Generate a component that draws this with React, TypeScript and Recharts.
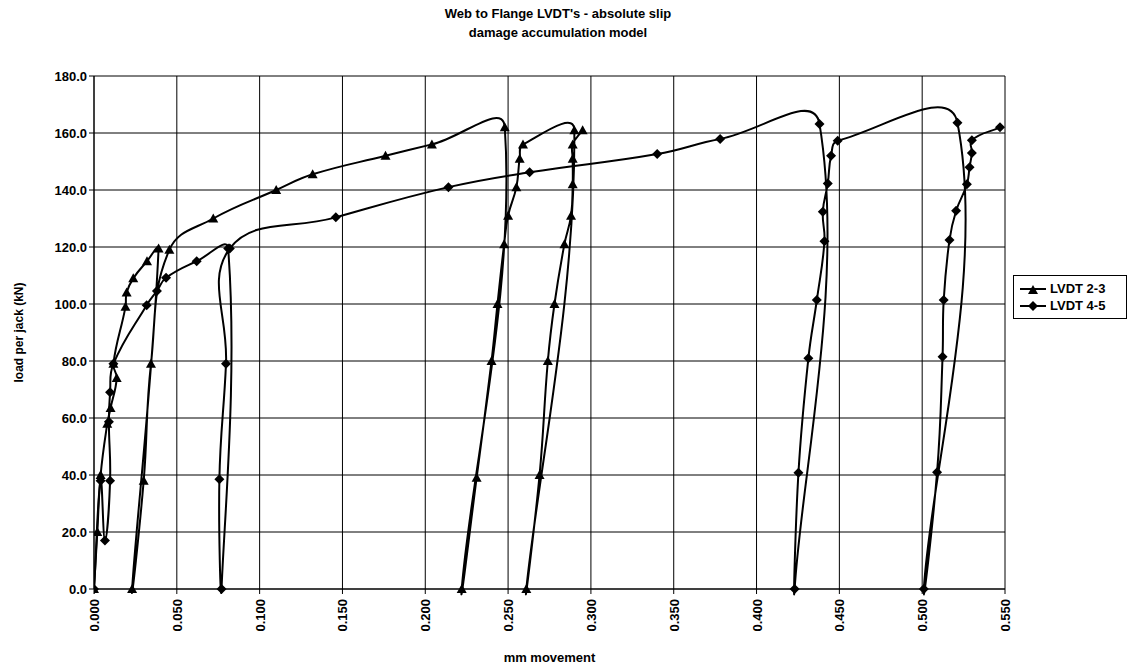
import { LineChart, Line, XAxis, YAxis, CartesianGrid, Label } from 'recharts';

const slipTicks = [0, 0.05, 0.1, 0.15, 0.2, 0.25, 0.3, 0.35, 0.4, 0.45, 0.5, 0.55];
const loadTicks = [0, 20, 40, 60, 80, 100, 120, 140, 160, 180];

// LVDT 2-3 (triangles) - slip in mm, load per jack in kN, in recorded order
const lvdt23Slip = [
  0.0, 0.002, 0.004, 0.008, 0.01, 0.0137, 0.0117, 0.019, 0.0197, 0.0237, 0.032, 0.039,
  0.023, 0.03, 0.0344, 0.0455, 0.072, 0.11, 0.132, 0.176, 0.204, 0.248,
  0.222, 0.231, 0.24, 0.2436, 0.2476, 0.25, 0.255, 0.257, 0.259, 0.29,
  0.261, 0.269, 0.274, 0.278, 0.284, 0.288, 0.289, 0.289, 0.289, 0.295,
];
const lvdt23Load = [
  0, 20, 40, 58, 63.5, 74, 79, 99, 104, 109, 115, 119.5,
  0, 38, 79, 119, 130, 140, 145.5, 152, 156, 162,
  0, 39, 80, 100, 121, 131, 141, 151, 156, 161,
  0, 40, 80, 100, 121, 131, 142, 151, 156, 161,
];

// LVDT 4-5 (diamonds)
const lvdt45Slip = [
  0.0, 0.004, 0.0066, 0.0097, 0.009, 0.0097, 0.0117, 0.0318, 0.038, 0.0435, 0.062, 0.081,
  0.077, 0.0757, 0.0797, 0.082, 0.146, 0.214, 0.263, 0.34, 0.378, 0.438,
  0.423, 0.4253, 0.4313, 0.4364, 0.441, 0.44, 0.443, 0.445, 0.449, 0.5213,
  0.501, 0.509, 0.5123, 0.513, 0.5165, 0.5205, 0.527, 0.5286, 0.53, 0.53, 0.547,
];
const lvdt45Load = [
  0, 38, 17, 38, 58.7, 69, 79, 99.6, 104.6, 109.2, 115, 119.5,
  0, 38.5, 79, 119.5, 130.4, 141, 146.2, 152.6, 157.9, 163.2,
  0, 40.8, 81, 101.4, 122, 132.4, 142.3, 152, 157.3, 163.6,
  0, 41, 81.5, 101.4, 122.5, 132.7, 142, 148, 153, 157.5, 162,
];

const toRows = (xs: number[], ys: number[]) => xs.map((x, i) => ({ x, load: ys[i] }));
const rows23 = toRows(lvdt23Slip, lvdt23Load);
const rows45 = toRows(lvdt45Slip, lvdt45Load);

const FONT = '"Liberation Sans", Arial, sans-serif';

// smoothed scatter line, bezier with chord-weighted tangents
function excelSmooth(context: any) {
  let pts: number[][] = [];
  const dist = (a: number[], b: number[]) => Math.hypot(b[0] - a[0], b[1] - a[1]);
  const T = 0.42;
  return {
    areaStart() {},
    areaEnd() {},
    lineStart() {
      pts = [];
    },
    point(x: number, y: number) {
      pts.push([+x, +y]);
    },
    lineEnd() {
      const n = pts.length;
      if (!n) return;
      context.moveTo(pts[0][0], pts[0][1]);
      for (let i = 0; i < n - 1; i++) {
        const p0 = pts[i - 1] || pts[i];
        const p1 = pts[i];
        const p2 = pts[i + 1];
        const p3 = pts[i + 2] || p2;
        const d01 = dist(p0, p1);
        const d12 = dist(p1, p2);
        const d23 = dist(p2, p3);
        const k1 = d01 + d12 > 0 ? (d12 / (d01 + d12)) * T : 0;
        const k2 = d12 + d23 > 0 ? (d12 / (d12 + d23)) * T : 0;
        context.bezierCurveTo(
          p1[0] + (p2[0] - p0[0]) * k1,
          p1[1] + (p2[1] - p0[1]) * k1,
          p2[0] - (p3[0] - p1[0]) * k2,
          p2[1] - (p3[1] - p1[1]) * k2,
          p2[0],
          p2[1]
        );
      }
    },
  };
}

const triPath = (cx: number, cy: number) => `M${cx},${cy - 5}L${cx + 5},${cy + 4}L${cx - 5},${cy + 4}Z`;
const diaPath = (cx: number, cy: number) => `M${cx},${cy - 5}L${cx + 5},${cy}L${cx},${cy + 5}L${cx - 5},${cy}Z`;

const TriangleDot = (props: any) => {
  const { cx, cy, index } = props;
  if (cx == null || cy == null) return <g key={`t-${index}`} />;
  return <path key={`t-${index}`} d={triPath(cx, cy)} fill="#000" />;
};

const DiamondDot = (props: any) => {
  const { cx, cy, index } = props;
  if (cx == null || cy == null) return <g key={`d-${index}`} />;
  return <path key={`d-${index}`} d={diaPath(cx, cy)} fill="#000" />;
};

const SlipTick = (props: any) => {
  const { x, y, payload } = props;
  return (
    <text
      transform={`translate(${x + 5},${y + 3}) rotate(-90)`}
      textAnchor="end"
      fontFamily={FONT}
      fontWeight="bold"
      fontSize={13}
      fill="#000"
    >
      {Number(payload.value).toFixed(3)}
    </text>
  );
};

const LoadAxisTitle = (props: any) => {
  const vb = props.viewBox || { y: 68, height: 513 };
  const cy = vb.y + vb.height / 2;
  return (
    <text
      transform={`translate(15,${cy}) rotate(-90)`}
      textAnchor="middle"
      fontFamily={FONT}
      fontWeight="bold"
      fontSize={12}
      fill="#000"
    >
      load per jack (kN)
    </text>
  );
};

const LegendRow = ({ label, marker }: { label: string; marker: 'tri' | 'dia' }) => (
  <div style={{ display: 'flex', alignItems: 'center', height: 17 }}>
    <svg width={28} height={12}>
      <line x1={1} y1={6} x2={27} y2={6} stroke="#000" strokeWidth={2} />
      <path d={marker === 'tri' ? triPath(14, 7) : diaPath(14, 6)} fill="#000" />
    </svg>
    <span style={{ marginLeft: 3 }}>{label}</span>
  </div>
);

export default function App() {
  return (
    <div style={{ position: 'relative', width: 1119, height: 658, fontFamily: FONT, background: '#fff' }}>
      <div
        style={{
          position: 'absolute',
          top: -4,
          left: 0,
          width: 1100,
          textAlign: 'center',
          fontWeight: 'bold',
          fontSize: 13,
          lineHeight: '19px',
        }}
      >
        <div>Web to Flange LVDT's - absolute slip</div>
        <div>damage accumulation model</div>
      </div>
      <LineChart width={1119} height={658} margin={{ top: 68, right: 122, bottom: 0, left: 0 }}>
        <CartesianGrid stroke="#000" strokeWidth={1} />
        <XAxis
          type="number"
          dataKey="x"
          domain={[0, 0.55]}
          ticks={slipTicks}
          interval={0}
          allowDataOverflow
          height={77}
          stroke="#000"
          tickSize={5}
          tick={<SlipTick />}
        >
          <Label
            value="mm movement"
            position="insideBottom"
            offset={4}
            style={{ fontFamily: FONT, fontWeight: 'bold', fontSize: 13, fill: '#000' }}
          />
        </XAxis>
        <YAxis
          type="number"
          domain={[0, 180]}
          ticks={loadTicks}
          interval={0}
          width={86}
          stroke="#000"
          tickSize={5}
          tickFormatter={(v: number) => v.toFixed(1)}
          tick={{ fontFamily: FONT, fontWeight: 'bold', fontSize: 13, fill: '#000' }}
        >
          <Label content={LoadAxisTitle} />
        </YAxis>
        <Line
          data={rows23}
          dataKey="load"
          name="LVDT 2-3"
          type={excelSmooth as any}
          stroke="#000"
          strokeWidth={2}
          dot={TriangleDot}
          activeDot={false}
          isAnimationActive={false}
        />
        <Line
          data={rows45}
          dataKey="load"
          name="LVDT 4-5"
          type={excelSmooth as any}
          stroke="#000"
          strokeWidth={2}
          dot={DiamondDot}
          activeDot={false}
          isAnimationActive={false}
        />
      </LineChart>
      <div
        style={{
          position: 'absolute',
          left: 1005,
          top: 267,
          width: 114,
          border: '1px solid #000',
          padding: '4px 0 4px 5px',
          boxSizing: 'border-box',
          fontWeight: 'bold',
          fontSize: 13,
          background: '#fff',
        }}
      >
        <LegendRow label="LVDT 2-3" marker="tri" />
        <LegendRow label="LVDT 4-5" marker="dia" />
      </div>
    </div>
  );
}
